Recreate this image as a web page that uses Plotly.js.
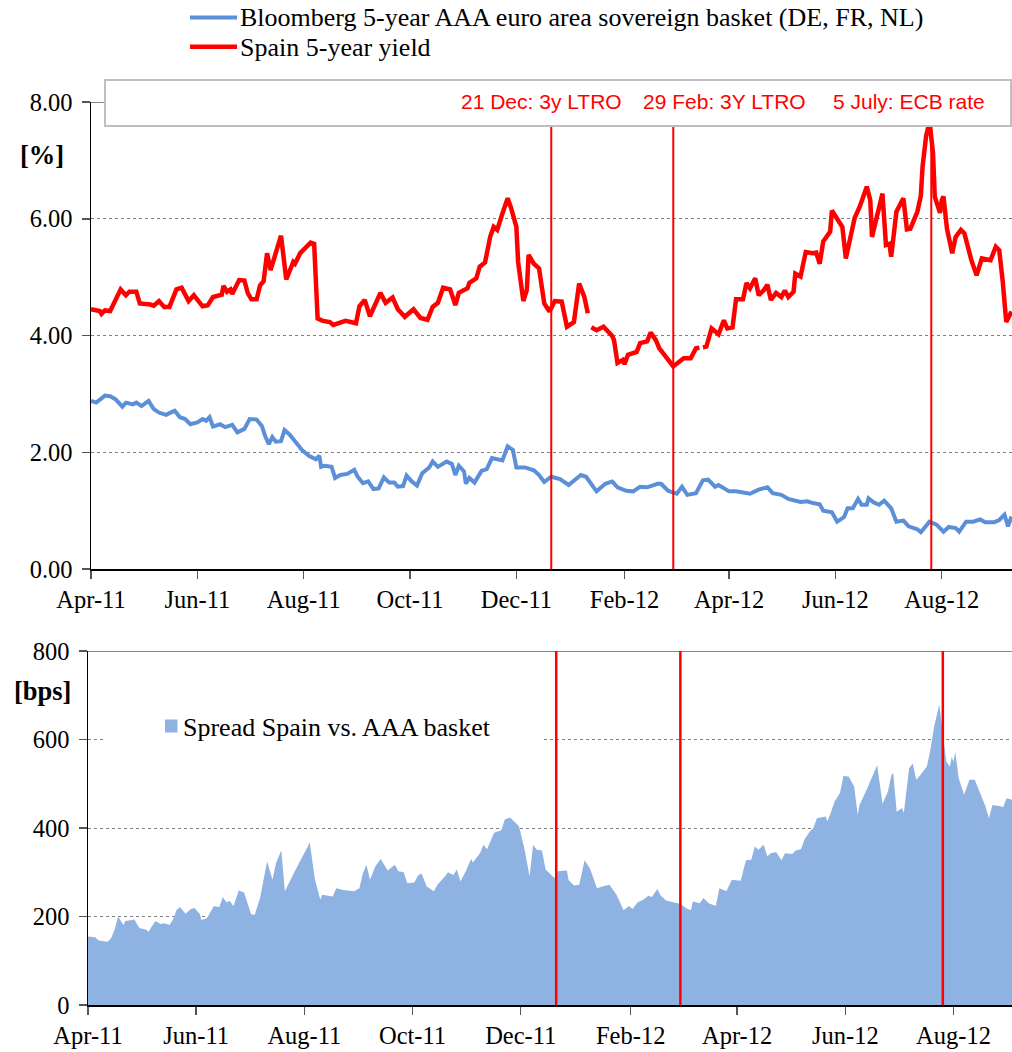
<!DOCTYPE html>
<html>
<head>
<meta charset="utf-8">
<script src="https://cdn.plot.ly/plotly-3.0.1.min.js"></script>
<style>
  html,body{margin:0;padding:0;background:#fff;}
  #chart{width:1012px;height:1052px;}
</style>
</head>
<body>
<div id="chart"></div>
<script>
// days counted from 1 Apr 2011
const redDay=[0,5,6,8,11,14,17,20,22,26,28,34,36,39,42,45,49,52,56,59,64,67,70,75,76,78,80,81,85,88,90,92,95,97,99,101,103,109,112,116,117,120,124,126,128,130,133,137,139,143,146,152,154,157,160,166,169,173,176,180,185,189,193,196,199,202,206,209,211,216,217,221,223,226,229,231,233,236,239,241,244,245,248,250,251,254,257,258,260,263,266,270,273,277,280,283,285,286,287,290,294,299,300,302,305,306,308,313,315,319,321,324,326,334,340,344,347,349,350,351,353,356,360,363,365,368,370,374,376,378,381,383,386,388,390,393,396,398,400,403,404,407,410,414,416,418,420,424,425,431,433,438,441,445,447,448,452,454,456,458,459,462,466,468,470,474,476,477,479,481,483,484,487,488,489,491,494,496,499,501,505,508,511,516,519,521,523,525,528];
const redYield=[4.45,4.42,4.37,4.43,4.42,4.61,4.79,4.69,4.75,4.75,4.55,4.53,4.51,4.59,4.49,4.49,4.79,4.82,4.59,4.69,4.50,4.52,4.66,4.70,4.85,4.75,4.79,4.71,4.95,4.94,4.72,4.62,4.62,4.86,4.93,5.41,5.12,5.71,4.96,5.26,5.23,5.41,5.52,5.59,5.57,4.29,4.25,4.23,4.18,4.22,4.25,4.21,4.50,4.61,4.33,4.73,4.56,4.65,4.45,4.32,4.45,4.30,4.27,4.49,4.56,4.82,4.79,4.52,4.73,4.81,4.90,4.98,5.18,5.25,5.69,5.86,5.81,6.09,6.35,6.18,5.86,5.26,4.59,4.78,5.38,5.23,5.15,4.95,4.55,4.41,4.59,4.58,4.15,4.23,4.89,4.66,4.38,null,4.14,4.09,4.15,3.99,3.92,3.53,3.58,3.51,3.67,3.72,3.87,3.90,4.05,3.92,3.78,3.47,3.61,3.61,3.78,3.79,null,3.80,3.81,4.12,4.02,4.26,4.12,4.14,4.62,4.62,4.90,4.81,4.98,4.69,4.78,4.87,4.61,4.73,4.66,4.77,4.66,4.75,5.06,5.01,5.43,5.41,5.42,5.23,5.61,5.78,6.14,5.86,5.32,6.01,6.21,6.55,6.32,5.69,6.15,6.43,5.55,5.57,5.35,6.12,6.35,5.82,5.83,6.12,6.39,6.89,7.41,7.66,7.12,6.38,6.10,6.32,6.38,5.83,5.41,5.69,5.81,5.75,5.29,5.03,5.32,5.29,5.52,5.46,4.92,4.23,4.41];

const aaaDay=[0,3,8,11,14,18,20,24,26,29,33,36,39,43,45,48,51,54,57,61,64,66,68,70,74,77,81,84,88,91,95,98,100,102,104,106,109,111,114,117,121,125,129,131,132,134,138,140,143,147,151,153,156,159,162,165,168,171,174,176,179,181,184,187,190,194,196,199,204,207,209,211,214,215,217,220,224,227,230,236,239,242,244,249,254,257,260,264,269,274,281,284,290,295,299,302,307,311,315,319,325,327,331,336,339,342,347,351,354,358,360,366,370,378,383,388,391,396,400,407,411,414,418,420,425,428,432,434,437,440,442,445,446,449,452,455,459,462,466,469,474,476,481,485,489,492,496,498,502,506,510,513,518,521,524,526,528];
const aaaYield=[2.88,2.85,2.97,2.96,2.91,2.78,2.85,2.82,2.85,2.79,2.88,2.74,2.68,2.64,2.67,2.71,2.60,2.57,2.48,2.51,2.57,2.54,2.60,2.44,2.48,2.43,2.47,2.34,2.40,2.57,2.56,2.45,2.27,2.14,2.26,2.18,2.19,2.38,2.30,2.18,2.04,1.94,1.88,1.94,1.75,1.77,1.75,1.56,1.61,1.63,1.70,1.58,1.47,1.50,1.37,1.38,1.57,1.48,1.48,1.41,1.42,1.60,1.50,1.43,1.64,1.74,1.84,1.75,1.84,1.80,1.61,1.77,1.67,1.46,1.56,1.48,1.68,1.71,1.90,1.86,2.10,2.04,1.74,1.74,1.69,1.61,1.49,1.58,1.54,1.44,1.61,1.58,1.33,1.46,1.50,1.40,1.34,1.33,1.41,1.40,1.46,1.46,1.34,1.29,1.41,1.27,1.30,1.52,1.53,1.41,1.44,1.33,1.33,1.29,1.36,1.40,1.30,1.27,1.20,1.15,1.16,1.13,1.11,1.00,0.97,0.81,0.89,1.04,1.04,1.20,1.10,1.10,1.21,1.14,1.10,1.17,1.04,0.81,0.83,0.73,0.68,0.63,0.81,0.76,0.64,0.72,0.70,0.64,0.81,0.81,0.85,0.80,0.80,0.84,0.93,0.73,0.90];

const spreadDay=[0,4,6,11,13,15,17,20,21,25,26,29,33,34,38,41,43,46,48,50,52,55,58,60,63,64,67,71,74,76,78,80,82,85,88,92,94,97,101,104,106,109,111,116,119,121,124,125,128,131,132,138,140,144,150,153,155,157,159,162,165,169,173,175,178,180,184,186,188,191,195,197,201,203,206,208,210,213,216,217,221,223,225,229,233,235,238,243,246,249,251,253,256,258,263,265,270,271,274,277,280,283,287,290,294,298,302,305,307,310,313,316,318,321,323,326,330,334,337,340,341,345,347,350,354,356,360,363,368,371,374,376,378,381,383,385,388,391,393,397,399,402,404,407,409,411,416,417,419,421,424,426,429,432,434,435,439,441,445,448,451,453,454,456,459,460,463,465,467,469,473,475,477,480,482,484,486,487,488,489,491,494,497,500,503,506,508,510,514,516,518,521];
const spreadBps=[155,153,146,143,151,170,200,181,190,192,194,174,170,165,190,183,185,181,194,215,221,206,217,219,206,192,196,224,221,244,232,235,223,259,254,205,204,242,325,283,321,349,257,297,321,336,358,368,283,238,249,245,264,260,257,264,298,317,283,313,330,304,317,302,300,275,277,292,298,268,257,272,289,300,294,306,279,302,330,322,343,362,352,389,395,419,424,404,355,291,362,351,349,306,287,302,304,282,270,272,327,309,264,268,272,249,214,224,217,232,238,247,244,262,247,236,232,229,219,214,234,230,242,230,224,264,257,283,281,327,328,358,351,362,336,343,346,327,343,341,349,352,374,392,400,422,426,415,437,460,479,518,516,494,430,452,486,505,542,455,482,520,525,437,445,434,535,546,509,518,539,576,627,679,613,550,539,561,550,572,512,475,509,509,479,449,422,452,450,447,467,464];

const eventDates=['2011-12-21','2012-02-29','2012-07-26'];
const eventLabels=['21 Dec: 3y LTRO','29 Feb: 3Y LTRO','5 July: ECB rate'];
const seriesNames=['Bloomberg 5-year AAA euro area sovereign basket (DE, FR, NL)','Spain 5-year yield','Spread Spain vs. AAA basket'];

const DAY0=Date.UTC(2011,3,1);
const toDate=d=>new Date(DAY0+d*864e5).toISOString().replace('T',' ').slice(0,19);

const W=1012, H=1052;
const px=x=>x/W, py=y=>(H-y)/H;
const RED='#ff0000', BLUE='#5b8fd7', AREA='#8eb3e2';
const SERIF='Liberation Serif, Times New Roman, serif';
const SANS='Liberation Sans, Arial, sans-serif';

const traces=[
  {x:aaaDay.map(toDate),y:aaaYield,type:'scatter',mode:'lines',name:seriesNames[0],
   line:{color:BLUE,width:4},xaxis:'x',yaxis:'y'},
  {x:redDay.map(toDate),y:redYield,type:'scatter',mode:'lines',name:seriesNames[1],
   line:{color:RED,width:4.5},connectgaps:false,xaxis:'x',yaxis:'y'},
  {x:spreadDay.map(toDate),y:spreadBps,type:'scatter',mode:'none',fill:'tozeroy',
   fillcolor:AREA,name:seriesNames[2],xaxis:'x2',yaxis:'y2'}
];

const tickFont={family:SERIF,size:24.5,color:'#000'};
const xCommon={type:'date',tick0:'2011-04-01',dtick:'M2',tickformat:'%b-%y',ticks:'outside',ticklen:8,
  tickwidth:1.5,tickcolor:'#555',showline:true,linecolor:'#000',linewidth:1.5,showgrid:false,zeroline:false,
  tickfont:tickFont,automargin:false,fixedrange:true};
const yCommon={ticks:'outside',ticklen:8,tickwidth:1.5,tickcolor:'#555',showline:true,linecolor:'#000',linewidth:1.5,
  showgrid:true,gridcolor:'#808080',gridwidth:1,griddash:'dot',zeroline:false,tickfont:tickFont,
  ticklabelstandoff:4,automargin:false,fixedrange:true};

const shapes=[];
eventDates.forEach(d=>{
  shapes.push({type:'line',xref:'x',yref:'y',x0:d,x1:d,y0:0,y1:8,line:{color:RED,width:2},layer:'above'});
  shapes.push({type:'line',xref:'x2',yref:'y2',x0:d,x1:d,y0:0,y1:800,line:{color:RED,width:2.5},layer:'above'});
});
// solid top gridlines
shapes.push({type:'line',xref:'x domain',yref:'y',x0:0,x1:1,y0:8,y1:8,line:{color:'#888',width:2},layer:'below'});
shapes.push({type:'line',xref:'x2 domain',yref:'y2',x0:0,x1:1,y0:800,y1:800,line:{color:'#888',width:2},layer:'below'});
// event label box
shapes.push({type:'rect',xref:'paper',yref:'paper',x0:px(105),x1:px(1011),y0:py(126),y1:py(80),
  fillcolor:'#fff',line:{color:'#bfbfbf',width:2},layer:'above'});
// spread legend background
shapes.push({type:'rect',xref:'paper',yref:'paper',x0:px(105),x1:px(543),y0:py(752),y1:py(704),
  fillcolor:'#fff',line:{width:0},layer:'above'});
shapes.push({type:'rect',xref:'paper',yref:'paper',x0:px(165),x1:px(177.5),y0:py(732.5),y1:py(719.5),
  fillcolor:AREA,line:{width:0},layer:'above'});
// top legend samples
shapes.push({type:'line',xref:'paper',yref:'paper',x0:px(190),x1:px(237),y0:py(17.5),y1:py(17.5),line:{color:BLUE,width:4}});
shapes.push({type:'line',xref:'paper',yref:'paper',x0:px(190),x1:px(237),y0:py(46.7),y1:py(46.7),line:{color:RED,width:4.5}});

const annotations=[
  {text:seriesNames[0],x:px(238),y:py(18),xanchor:'left',yanchor:'middle'},
  {text:seriesNames[1],x:px(238),y:py(47),xanchor:'left',yanchor:'middle'},
  {text:seriesNames[2],x:px(181),y:py(727),xanchor:'left',yanchor:'middle'},
  {text:'<b>[%]</b>',x:px(42),y:py(155),xanchor:'center',yanchor:'middle',font:{family:SERIF,size:26.5,color:'#000'}},
  {text:'<b>[bps]</b>',x:px(42),y:py(691),xanchor:'center',yanchor:'middle',font:{family:SERIF,size:26.5,color:'#000'}}
].map(a=>Object.assign({xref:'paper',yref:'paper',showarrow:false,font:{family:SERIF,size:26,color:'#000'}},a));
const labelX=[459,641,831];
eventLabels.forEach((t,i)=>annotations.push({text:t,xref:'paper',yref:'paper',x:px(labelX[i]),y:py(101.5),
  xanchor:'left',yanchor:'middle',showarrow:false,font:{family:SANS,size:21,color:RED}}));

const layout={
  width:W,height:H,margin:{l:0,r:0,t:0,b:0},
  paper_bgcolor:'#fff',plot_bgcolor:'rgba(0,0,0,0)',showlegend:false,
  xaxis:Object.assign({},xCommon,{domain:[px(91),1],anchor:'y',range:['2011-04-01',toDate(528.3)]}),
  yaxis:Object.assign({},yCommon,{domain:[py(569),py(102)],anchor:'x',range:[0,8],dtick:2,tick0:0,tickformat:'.2f'}),
  xaxis2:Object.assign({},xCommon,{domain:[px(88),1],anchor:'y2',range:['2011-04-01',toDate(521)]}),
  yaxis2:Object.assign({},yCommon,{domain:[py(1005),py(651)],anchor:'x2',range:[0,800],dtick:200,tick0:0}),
  shapes:shapes,annotations:annotations
};

Plotly.newPlot('chart',traces,layout,{staticPlot:true,displayModeBar:false});
</script>
</body>
</html>
